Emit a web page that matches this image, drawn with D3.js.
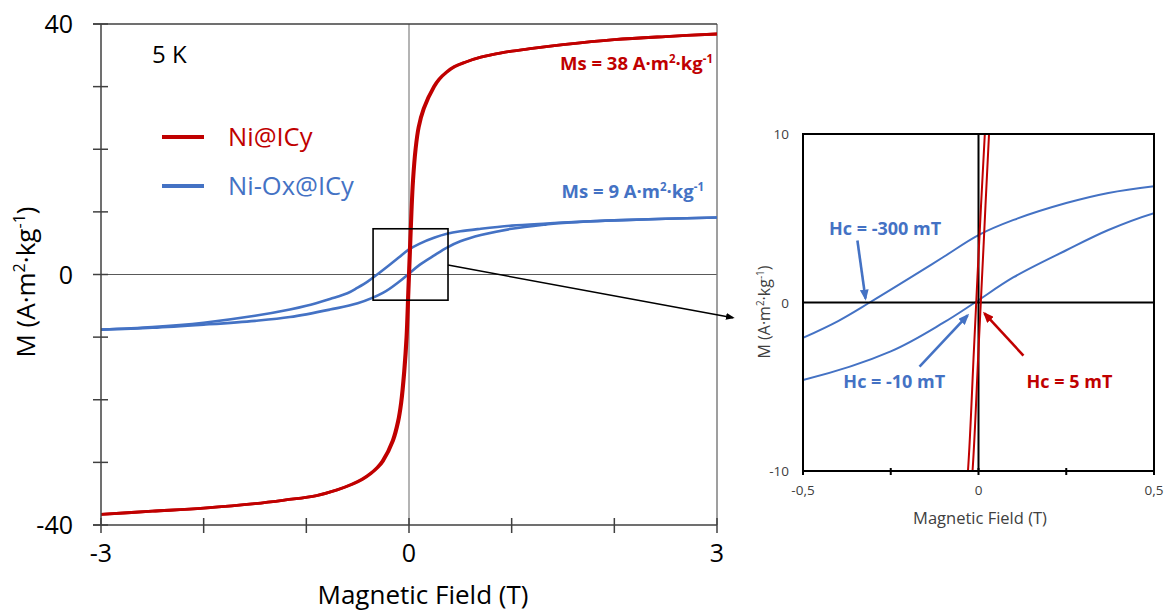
<!DOCTYPE html>
<html><head><meta charset="utf-8">
<script src="https://cdn.jsdelivr.net/npm/d3@7"></script>
<style>
body{margin:0;background:#fff}
svg{display:block}
text{font-family:"Open Sans","Noto Sans",sans-serif}
</style>
</head><body>
<svg id="c" width="1166" height="612"></svg>
<script>
// ---------------- DATA ----------------
// Ni@ICy (red) : ascending and descending branches share magnetisation values
const redAscField  = [-3,-2.5,-2,-1.5,-1.2,-0.9,-0.7,-0.55,-0.45,-0.37,-0.3,-0.25,-0.15,-0.1,-0.07,-0.04,-0.017,0,0.015,0.03,0.045,0.07,0.1,0.15,0.25,0.3,0.37,0.45,0.55,0.7,0.9,1.2,1.5,2,2.5,3];
const redDescField = [-3,-2.5,-2,-1.5,-1.2,-0.9,-0.7,-0.56,-0.46,-0.38,-0.312,-0.262,-0.163,-0.113,-0.083,-0.053,-0.03,-0.013,0.002,0.018,0.033,0.058,0.088,0.138,0.238,0.29,0.36,0.44,0.545,0.7,0.9,1.2,1.5,2,2.5,3];
const redM         = [-38.3,-37.8,-37.3,-36.6,-36.0,-35.3,-34.4,-33.5,-32.7,-31.8,-30.8,-29.8,-26.5,-23.5,-20.5,-15.5,-10,-2.8,3.6,10,15,20,23.5,26.5,30.0,31.2,32.3,33.2,33.9,34.7,35.4,36.1,36.7,37.5,38.0,38.4];

// Ni-Ox@ICy (blue)
const blueDescField = [-3,-2.5,-2,-1.5,-1.16,-1,-0.77,-0.6,-0.5,-0.4,-0.31,-0.2,-0.1,0,0.1,0.25,0.37,0.5,0.7,1,1.34,1.5,2,2.5,3];
const blueDescM     = [-8.8,-8.4,-7.7,-6.6,-5.6,-5.0,-3.9,-3.0,-2.1,-1.1,0,1.4,2.7,4.0,4.9,5.9,6.5,6.9,7.3,7.8,8.15,8.3,8.65,8.9,9.1];
const blueAscField  = [-3,-2.5,-2,-1.5,-1.16,-0.77,-0.5,-0.25,-0.1,-0.01,0.1,0.25,0.37,0.5,0.7,1,1.34,1.5,2,2.5,3];
const blueAscM      = [-8.8,-8.5,-8.0,-7.4,-6.8,-5.6,-4.6,-2.9,-1.2,0,1.5,3.1,4.3,5.3,6.3,7.3,8.0,8.25,8.65,8.9,9.1];

const seriesNames = ["Ni@ICy","Ni-Ox@ICy"];
const seriesColors = ["#C00000","#4472C4"];

const mainXTicks = [-3,-2,-1,0,1,2,3];
const mainXLabels = [-3,0,3];
const mainYTicks = [-40,-30,-20,-10,0,10,20,30,40];
const mainYLabels = [-40,0,40];
const insetXTicks = [-0.5,-0.25,0,0.25,0.5];
const insetXLabels = [-0.5,0,0.5];
const insetYLabels = [-10,0,10];

// ---------------- SETUP ----------------
const svg = d3.select("#c");
const P = {l:101,r:717,t:24,b:525};
const x = d3.scaleLinear().domain([-3,3]).range([P.l,P.r]);
const y = d3.scaleLinear().domain([-40,40]).range([P.b,P.t]);
const I = {l:803,r:1154,t:134,b:471};
const xi = d3.scaleLinear().domain([-0.5,0.5]).range([I.l,I.r]);
const yi = d3.scaleLinear().domain([-10,10]).range([I.b,I.t]);

const defs = svg.append("defs");
defs.append("clipPath").attr("id","clipMain").append("rect")
  .attr("x",P.l).attr("y",P.t).attr("width",P.r-P.l).attr("height",P.b-P.t);
defs.append("clipPath").attr("id","clipInset").append("rect")
  .attr("x",I.l).attr("y",I.t).attr("width",I.r-I.l).attr("height",I.b-I.t);
function marker(id,color,w,h){
  defs.append("marker").attr("id",id).attr("markerUnits","userSpaceOnUse")
    .attr("viewBox","0 0 10 8").attr("refX",8).attr("refY",4)
    .attr("markerWidth",w).attr("markerHeight",h).attr("orient","auto")
    .append("path").attr("d","M0,0L10,4L0,8z").attr("fill",color);
}
marker("mBlack","#000",9,7);
marker("mRed",seriesColors[0],11,9);
marker("mBlue",seriesColors[1],11,9);

const zip = (a,b)=>a.map((v,i)=>[v,b[i]]);
const redBranches = [zip(redAscField,redM), zip(redDescField,redM)];
const blueBranches = [zip(blueAscField,blueAscM), zip(blueDescField,blueDescM)];

// rich text helper: parts = [[text, sup?], ...]
function rich(sel, parts, fs){
  let shifted=false;
  parts.forEach(([t,sup])=>{
    const ts = sel.append("tspan").text(t);
    if(sup && !shifted){ ts.attr("font-size",fs*0.62).attr("dy",-fs*0.38); shifted=true; }
    else if(!sup && shifted){ ts.attr("dy",fs*0.38); shifted=false; }
    else if(sup) ts.attr("font-size",fs*0.62);
  });
  return sel;
}
const unitParts = (pre)=>[[pre+"A·m"],["2",true],["·kg"],["-1",true]];
const curve = d3.curveCatmullRom.alpha(0.5);

// ---------------- MAIN CHART ----------------
const g = svg.append("g");
g.append("line").attr("x1",x(0)).attr("x2",x(0)).attr("y1",P.t).attr("y2",P.b)
  .attr("stroke","#8c8c8c").attr("stroke-width",1.3);
g.append("line").attr("x1",P.l).attr("x2",P.r).attr("y1",y(0)).attr("y2",y(0))
  .attr("stroke","#595959").attr("stroke-width",1);
g.append("line").attr("x1",P.r).attr("x2",P.r).attr("y1",P.t).attr("y2",P.b)
  .attr("stroke","#7f7f7f").attr("stroke-width",1.5);
g.append("line").attr("x1",93).attr("x2",P.r).attr("y1",P.t).attr("y2",P.t)
  .attr("stroke","#404040").attr("stroke-width",1.5);

const lineMain = d3.line().x(d=>x(d[0])).y(d=>y(d[1])).curve(curve);
const cm = g.append("g").attr("clip-path","url(#clipMain)");
blueBranches.forEach(b=>cm.append("path").attr("d",lineMain(b)).attr("fill","none")
  .attr("stroke",seriesColors[1]).attr("stroke-width",2.6));
redBranches.forEach(b=>cm.append("path").attr("d",lineMain(b)).attr("fill","none")
  .attr("stroke",seriesColors[0]).attr("stroke-width",2.8));

g.append("line").attr("x1",P.l).attr("x2",P.l).attr("y1",P.t).attr("y2",P.b)
  .attr("stroke","#404040").attr("stroke-width",1.5);
g.append("line").attr("x1",93).attr("x2",P.r).attr("y1",P.b).attr("y2",P.b)
  .attr("stroke","#404040").attr("stroke-width",1.5);
mainXTicks.forEach(t=>g.append("line").attr("x1",x(t)).attr("x2",x(t)).attr("y1",P.b-7).attr("y2",P.b+8)
  .attr("stroke","#404040").attr("stroke-width",1.5));
mainYTicks.forEach(t=>g.append("line").attr("x1",P.l-8).attr("x2",P.l+7).attr("y1",y(t)).attr("y2",y(t))
  .attr("stroke","#404040").attr("stroke-width",1.5));
mainXLabels.forEach(t=>g.append("text").attr("x",x(t)).attr("y",P.b+37).attr("text-anchor","middle")
  .attr("font-size",25).attr("fill","#000").text(t));
mainYLabels.forEach(t=>g.append("text").attr("x",P.l-28).attr("y",y(t)+9).attr("text-anchor","end")
  .attr("font-size",25).attr("fill","#000").text(t));
g.append("text").attr("x",423).attr("y",604).attr("text-anchor","middle").attr("font-size",26)
  .attr("fill","#000").text("Magnetic Field (T)");
rich(g.append("text").attr("transform","translate(35,282) rotate(-90)").attr("text-anchor","middle")
  .attr("font-size",26).attr("fill","#000"), [["M ("],...unitParts(""),[")"]], 26);

g.append("text").attr("x",152).attr("y",63).attr("font-size",24).attr("fill","#000").text("5 K");

// legend
seriesNames.forEach((n,i)=>{
  const ly = 137 + i*49;
  g.append("line").attr("x1",162).attr("x2",204).attr("y1",ly).attr("y2",ly)
    .attr("stroke",seriesColors[i]).attr("stroke-width",4);
  g.append("text").attr("x",228).attr("y",ly+9).attr("font-size",25.5).attr("fill",seriesColors[i]).text(n);
});

// Ms annotations
rich(g.append("text").attr("x",713).attr("y",70).attr("text-anchor","end").attr("font-weight","bold")
  .attr("font-size",18.5).attr("fill",seriesColors[0]), unitParts("Ms = 38 "), 18.5);
rich(g.append("text").attr("x",704).attr("y",198).attr("text-anchor","end").attr("font-weight","bold")
  .attr("font-size",18.5).attr("fill",seriesColors[1]), unitParts("Ms = 9 "), 18.5);

// zoom box & connector
const zoomBox = {x0:-0.35,x1:0.38,m0:-4.1,m1:7.3};
g.append("rect").attr("x",x(zoomBox.x0)).attr("y",y(zoomBox.m1))
  .attr("width",x(zoomBox.x1)-x(zoomBox.x0)).attr("height",y(zoomBox.m0)-y(zoomBox.m1))
  .attr("fill","none").attr("stroke","#000").attr("stroke-width",1.6);
g.append("line").attr("x1",x(zoomBox.x1)).attr("y1",y(1.5)).attr("x2",xi(-0.5)-70).attr("y2",yi(-0.9))
  .attr("stroke","#000").attr("stroke-width",1.5).attr("marker-end","url(#mBlack)");

// ---------------- INSET ----------------
const gi = svg.append("g");
const lineIn = d3.line().x(d=>xi(d[0])).y(d=>yi(d[1])).curve(curve);
const ci = gi.append("g").attr("clip-path","url(#clipInset)");
blueBranches.forEach(b=>ci.append("path").attr("d",lineIn(b)).attr("fill","none")
  .attr("stroke",seriesColors[1]).attr("stroke-width",2));
ci.append("line").attr("x1",xi(0)).attr("x2",xi(0)).attr("y1",I.t).attr("y2",I.b)
  .attr("stroke","#000").attr("stroke-width",2);
ci.append("line").attr("x1",I.l).attr("x2",I.r).attr("y1",yi(0)).attr("y2",yi(0))
  .attr("stroke","#000").attr("stroke-width",2);
redBranches.forEach(b=>ci.append("path").attr("d",lineIn(b)).attr("fill","none")
  .attr("stroke",seriesColors[0]).attr("stroke-width",2));
gi.append("rect").attr("x",I.l).attr("y",I.t).attr("width",I.r-I.l).attr("height",I.b-I.t)
  .attr("fill","none").attr("stroke","#000").attr("stroke-width",2);
insetXTicks.forEach(t=>gi.append("line").attr("x1",xi(t)).attr("x2",xi(t)).attr("y1",I.b-3).attr("y2",I.b+4)
  .attr("stroke","#000").attr("stroke-width",2));
insetXLabels.forEach(t=>gi.append("text").attr("x",xi(t)).attr("y",I.b+24).attr("text-anchor","middle")
  .attr("font-size",13.5).attr("fill","#404040").text(String(t).replace(".",",")));
insetYLabels.forEach(t=>gi.append("text").attr("x",I.l-14).attr("y",yi(t)+5).attr("text-anchor","end")
  .attr("font-size",13.5).attr("fill","#404040").text(t));
gi.append("text").attr("x",980).attr("y",524).attr("text-anchor","middle").attr("font-size",16.5)
  .attr("fill","#404040").text("Magnetic Field (T)");
rich(gi.append("text").attr("transform","translate(770,312) rotate(-90)").attr("text-anchor","middle")
  .attr("font-size",16).attr("fill","#404040"), [["M ("],...unitParts(""),[")"]], 16);

// Hc annotations [text, color idx, text x, text m, arrow from x, m, to x, m]
const hcNotes = [
  ["Hc = -300 mT",1,-0.426,3.98,-0.345,3.68,-0.322,0.24],
  ["Hc = -10 mT",1,-0.385,-5.1,-0.168,-3.8,-0.031,-0.77],
  ["Hc = 5 mT",0,0.137,-5.1,0.128,-3.15,0.017,-0.65]
];
hcNotes.forEach(n=>{
  const c = seriesColors[n[1]];
  gi.append("text").attr("x",xi(n[2])).attr("y",yi(n[3])).attr("font-weight","bold")
    .attr("font-size",18).attr("fill",c).text(n[0]);
  gi.append("line").attr("x1",xi(n[4])).attr("y1",yi(n[5])).attr("x2",xi(n[6])).attr("y2",yi(n[7]))
    .attr("stroke",c).attr("stroke-width",2.6).attr("marker-end",`url(#${n[1]?"mBlue":"mRed"})`);
});
</script>
</body></html>
